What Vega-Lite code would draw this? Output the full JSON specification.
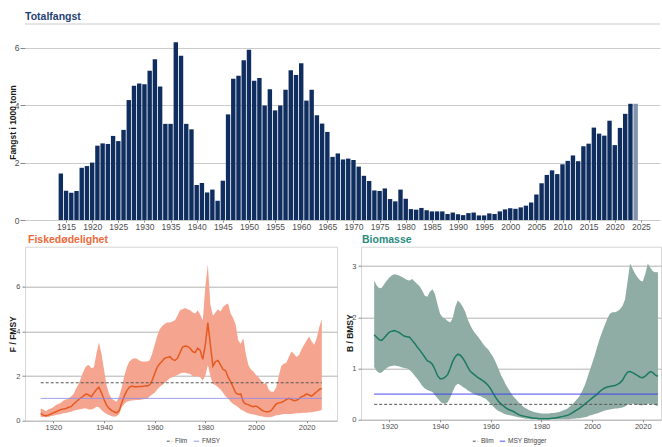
{
  "$schema": "https://vega.github.io/schema/vega-lite/v6.json",
  "usermeta": {"embedOptions": {"actions": false}},
  "padding": {"left": 8, "top": 12, "right": 0, "bottom": 0},
  "autosize": {"type": "pad"},
  "background": "white",
  "config": {
    "font": "Liberation Sans",
    "view": {"stroke": null},
    "axis": {"labelFont": "Liberation Sans", "labelColor": "#4d4d4d", "titleColor": "#1a1a1a", "titleFont": "Liberation Sans", "titleFontWeight": "bold", "tickColor": "#888888", "domain": false, "labelFlush": false},
    "title": {"font": "Liberation Sans", "fontWeight": "bold", "anchor": "start", "frame": "group"},
    "legend": {"orient": "none", "direction": "horizontal", "title": null, "labelFontSize": 6.5, "labelColor": "#444444", "symbolType": "stroke", "symbolStrokeWidth": 1, "symbolSize": 30, "columnPadding": 3, "labelOffset": 2, "padding": 0, "labelFont": "Liberation Sans"}
  },
  "datasets": {
    "catch": [
      {"year":1914,"catch":1.62,"type":"final"},{"year":1915,"catch":1.02,"type":"final"},{"year":1916,"catch":0.95,"type":"final"},{"year":1917,"catch":1.01,"type":"final"},{"year":1918,"catch":1.82,"type":"final"},{"year":1919,"catch":1.88,"type":"final"},{"year":1920,"catch":2.0,"type":"final"},{"year":1921,"catch":2.59,"type":"final"},{"year":1922,"catch":2.67,"type":"final"},{"year":1923,"catch":2.65,"type":"final"},{"year":1924,"catch":2.93,"type":"final"},{"year":1925,"catch":2.75,"type":"final"},{"year":1926,"catch":3.14,"type":"final"},{"year":1927,"catch":4.18,"type":"final"},{"year":1928,"catch":4.68,"type":"final"},{"year":1929,"catch":4.76,"type":"final"},{"year":1930,"catch":4.73,"type":"final"},{"year":1931,"catch":5.2,"type":"final"},{"year":1932,"catch":5.6,"type":"final"},{"year":1933,"catch":4.65,"type":"final"},{"year":1934,"catch":3.35,"type":"final"},{"year":1935,"catch":3.35,"type":"final"},{"year":1936,"catch":6.19,"type":"final"},{"year":1937,"catch":5.72,"type":"final"},{"year":1938,"catch":3.35,"type":"final"},{"year":1939,"catch":3.16,"type":"final"},{"year":1940,"catch":1.22,"type":"final"},{"year":1941,"catch":1.29,"type":"final"},{"year":1942,"catch":0.96,"type":"final"},{"year":1943,"catch":1.06,"type":"final"},{"year":1944,"catch":0.67,"type":"final"},{"year":1945,"catch":1.37,"type":"final"},{"year":1946,"catch":3.68,"type":"final"},{"year":1947,"catch":4.92,"type":"final"},{"year":1948,"catch":5.03,"type":"final"},{"year":1949,"catch":5.57,"type":"final"},{"year":1950,"catch":5.93,"type":"final"},{"year":1951,"catch":4.85,"type":"final"},{"year":1952,"catch":4.95,"type":"final"},{"year":1953,"catch":3.99,"type":"final"},{"year":1954,"catch":4.56,"type":"final"},{"year":1955,"catch":3.82,"type":"final"},{"year":1956,"catch":3.99,"type":"final"},{"year":1957,"catch":4.54,"type":"final"},{"year":1958,"catch":5.22,"type":"final"},{"year":1959,"catch":5.05,"type":"final"},{"year":1960,"catch":5.46,"type":"final"},{"year":1961,"catch":4.16,"type":"final"},{"year":1962,"catch":4.54,"type":"final"},{"year":1963,"catch":3.65,"type":"final"},{"year":1964,"catch":3.36,"type":"final"},{"year":1965,"catch":3.07,"type":"final"},{"year":1966,"catch":2.2,"type":"final"},{"year":1967,"catch":2.32,"type":"final"},{"year":1968,"catch":2.11,"type":"final"},{"year":1969,"catch":2.14,"type":"final"},{"year":1970,"catch":2.09,"type":"final"},{"year":1971,"catch":1.86,"type":"final"},{"year":1972,"catch":1.54,"type":"final"},{"year":1973,"catch":1.36,"type":"final"},{"year":1974,"catch":1.03,"type":"final"},{"year":1975,"catch":1.01,"type":"final"},{"year":1976,"catch":1.1,"type":"final"},{"year":1977,"catch":0.73,"type":"final"},{"year":1978,"catch":0.65,"type":"final"},{"year":1979,"catch":1.06,"type":"final"},{"year":1980,"catch":0.74,"type":"final"},{"year":1981,"catch":0.38,"type":"final"},{"year":1982,"catch":0.36,"type":"final"},{"year":1983,"catch":0.42,"type":"final"},{"year":1984,"catch":0.34,"type":"final"},{"year":1985,"catch":0.3,"type":"final"},{"year":1986,"catch":0.3,"type":"final"},{"year":1987,"catch":0.3,"type":"final"},{"year":1988,"catch":0.21,"type":"final"},{"year":1989,"catch":0.26,"type":"final"},{"year":1990,"catch":0.2,"type":"final"},{"year":1991,"catch":0.17,"type":"final"},{"year":1992,"catch":0.24,"type":"final"},{"year":1993,"catch":0.26,"type":"final"},{"year":1994,"catch":0.16,"type":"final"},{"year":1995,"catch":0.16,"type":"final"},{"year":1996,"catch":0.23,"type":"final"},{"year":1997,"catch":0.21,"type":"final"},{"year":1998,"catch":0.3,"type":"final"},{"year":1999,"catch":0.37,"type":"final"},{"year":2000,"catch":0.41,"type":"final"},{"year":2001,"catch":0.39,"type":"final"},{"year":2002,"catch":0.44,"type":"final"},{"year":2003,"catch":0.5,"type":"final"},{"year":2004,"catch":0.61,"type":"final"},{"year":2005,"catch":0.89,"type":"final"},{"year":2006,"catch":1.28,"type":"final"},{"year":2007,"catch":1.57,"type":"final"},{"year":2008,"catch":1.73,"type":"final"},{"year":2009,"catch":1.6,"type":"final"},{"year":2010,"catch":1.94,"type":"final"},{"year":2011,"catch":2.06,"type":"final"},{"year":2012,"catch":2.25,"type":"final"},{"year":2013,"catch":2.05,"type":"final"},{"year":2014,"catch":2.57,"type":"final"},{"year":2015,"catch":2.66,"type":"final"},{"year":2016,"catch":3.22,"type":"final"},{"year":2017,"catch":3.01,"type":"final"},{"year":2018,"catch":2.94,"type":"final"},{"year":2019,"catch":3.46,"type":"final"},{"year":2020,"catch":2.61,"type":"final"},{"year":2021,"catch":3.21,"type":"final"},{"year":2022,"catch":3.7,"type":"final"},{"year":2023,"catch":4.05,"type":"final"},{"year":2024,"catch":4.05,"type":"prelim"}
    ],
    "fish": [
      {"year":1915,"low":0.18,"median":0.33,"high":0.55},{"year":1916,"low":0.17,"median":0.25,"high":0.5},{"year":1917,"low":0.15,"median":0.22,"high":0.42},{"year":1918,"low":0.17,"median":0.25,"high":0.5},{"year":1919,"low":0.2,"median":0.3,"high":0.55},{"year":1920,"low":0.22,"median":0.35,"high":0.6},{"year":1921,"low":0.25,"median":0.4,"high":0.7},{"year":1922,"low":0.28,"median":0.45,"high":0.75},{"year":1923,"low":0.3,"median":0.5,"high":0.8},{"year":1924,"low":0.33,"median":0.52,"high":0.9},{"year":1925,"low":0.35,"median":0.55,"high":0.95},{"year":1926,"low":0.38,"median":0.6,"high":1.0},{"year":1927,"low":0.4,"median":0.63,"high":1.08},{"year":1928,"low":0.45,"median":0.75,"high":1.2},{"year":1929,"low":0.48,"median":0.85,"high":1.45},{"year":1930,"low":0.5,"median":0.95,"high":1.65},{"year":1931,"low":0.52,"median":1.03,"high":1.95},{"year":1932,"low":0.55,"median":1.12,"high":2.25},{"year":1933,"low":0.55,"median":1.2,"high":2.45},{"year":1934,"low":0.5,"median":1.15,"high":2.5},{"year":1935,"low":0.5,"median":1.08,"high":2.35},{"year":1936,"low":0.55,"median":1.25,"high":2.4},{"year":1937,"low":0.63,"median":1.4,"high":3.0},{"year":1938,"low":0.6,"median":1.5,"high":3.5},{"year":1939,"low":0.48,"median":1.25,"high":3.0},{"year":1940,"low":0.38,"median":0.95,"high":2.3},{"year":1941,"low":0.3,"median":0.7,"high":1.6},{"year":1942,"low":0.25,"median":0.55,"high":1.2},{"year":1943,"low":0.2,"median":0.45,"high":1.0},{"year":1944,"low":0.18,"median":0.4,"high":0.9},{"year":1945,"low":0.2,"median":0.35,"high":0.85},{"year":1946,"low":0.3,"median":0.45,"high":1.1},{"year":1947,"low":0.6,"median":0.8,"high":1.5},{"year":1948,"low":0.75,"median":1.1,"high":2.0},{"year":1949,"low":0.85,"median":1.35,"high":2.4},{"year":1950,"low":0.88,"median":1.5,"high":2.65},{"year":1951,"low":0.9,"median":1.55,"high":2.75},{"year":1952,"low":0.92,"median":1.52,"high":2.8},{"year":1953,"low":0.93,"median":1.52,"high":2.78},{"year":1954,"low":0.93,"median":1.53,"high":2.7},{"year":1955,"low":0.95,"median":1.53,"high":2.65},{"year":1956,"low":0.97,"median":1.55,"high":2.65},{"year":1957,"low":1.0,"median":1.55,"high":2.65},{"year":1958,"low":1.08,"median":1.6,"high":2.7},{"year":1959,"low":1.18,"median":1.8,"high":3.0},{"year":1960,"low":1.25,"median":2.1,"high":3.4},{"year":1961,"low":1.4,"median":2.4,"high":3.8},{"year":1962,"low":1.52,"median":2.55,"high":4.1},{"year":1963,"low":1.6,"median":2.68,"high":4.25},{"year":1964,"low":1.7,"median":2.8,"high":4.35},{"year":1965,"low":1.8,"median":2.84,"high":4.4},{"year":1966,"low":1.9,"median":2.87,"high":4.4},{"year":1967,"low":1.95,"median":2.75,"high":4.45},{"year":1968,"low":2.0,"median":2.7,"high":4.5},{"year":1969,"low":2.05,"median":2.8,"high":4.7},{"year":1970,"low":2.12,"median":3.05,"high":4.95},{"year":1971,"low":2.15,"median":3.3,"high":5.0},{"year":1972,"low":2.15,"median":3.35,"high":5.05},{"year":1973,"low":2.12,"median":3.33,"high":5.0},{"year":1974,"low":2.1,"median":3.25,"high":4.95},{"year":1975,"low":2.0,"median":3.1,"high":4.85},{"year":1976,"low":1.97,"median":3.05,"high":4.8},{"year":1977,"low":2.0,"median":3.25,"high":4.95},{"year":1978,"low":1.95,"median":3.15,"high":4.75},{"year":1979,"low":1.8,"median":2.75,"high":4.5},{"year":1980,"low":2.0,"median":3.4,"high":6.0},{"year":1981,"low":2.5,"median":4.4,"high":7.0},{"year":1982,"low":2.0,"median":3.4,"high":5.2},{"year":1983,"low":1.65,"median":2.45,"high":4.7},{"year":1984,"low":1.6,"median":2.65,"high":4.85},{"year":1985,"low":1.5,"median":2.7,"high":5.0},{"year":1986,"low":1.4,"median":2.5,"high":4.9},{"year":1987,"low":1.25,"median":2.3,"high":5.1},{"year":1988,"low":1.1,"median":2.25,"high":5.2},{"year":1989,"low":1.0,"median":1.95,"high":5.25},{"year":1990,"low":0.85,"median":1.75,"high":4.8},{"year":1991,"low":0.75,"median":1.5,"high":4.6},{"year":1992,"low":0.68,"median":1.25,"high":4.3},{"year":1993,"low":0.6,"median":1.18,"high":3.6},{"year":1994,"low":0.5,"median":1.2,"high":3.45},{"year":1995,"low":0.45,"median":0.85,"high":3.7},{"year":1996,"low":0.38,"median":0.75,"high":3.0},{"year":1997,"low":0.33,"median":0.72,"high":2.5},{"year":1998,"low":0.3,"median":0.66,"high":2.3},{"year":1999,"low":0.28,"median":0.63,"high":2.2},{"year":2000,"low":0.25,"median":0.66,"high":2.05},{"year":2001,"low":0.22,"median":0.6,"high":1.95},{"year":2002,"low":0.2,"median":0.5,"high":1.8},{"year":2003,"low":0.18,"median":0.43,"high":1.65},{"year":2004,"low":0.16,"median":0.4,"high":1.7},{"year":2005,"low":0.15,"median":0.4,"high":1.4},{"year":2006,"low":0.17,"median":0.45,"high":1.3},{"year":2007,"low":0.2,"median":0.6,"high":1.3},{"year":2008,"low":0.24,"median":0.75,"high":1.5},{"year":2009,"low":0.26,"median":0.8,"high":2.0},{"year":2010,"low":0.28,"median":0.82,"high":2.45},{"year":2011,"low":0.3,"median":0.88,"high":2.55},{"year":2012,"low":0.3,"median":0.95,"high":2.6},{"year":2013,"low":0.3,"median":1.0,"high":2.85},{"year":2014,"low":0.3,"median":0.95,"high":3.1},{"year":2015,"low":0.32,"median":0.9,"high":3.0},{"year":2016,"low":0.33,"median":0.92,"high":2.85},{"year":2017,"low":0.33,"median":0.98,"high":2.95},{"year":2018,"low":0.35,"median":1.08,"high":3.2},{"year":2019,"low":0.36,"median":1.12,"high":3.4},{"year":2020,"low":0.36,"median":1.2,"high":3.6},{"year":2021,"low":0.38,"median":1.15,"high":3.77},{"year":2022,"low":0.38,"median":1.1,"high":3.55},{"year":2023,"low":0.4,"median":1.2,"high":3.4},{"year":2024,"low":0.42,"median":1.3,"high":3.7},{"year":2025,"low":0.45,"median":1.4,"high":4.2},{"year":2026,"low":0.48,"median":1.45,"high":4.55}
    ],
    "bio": [
      {"year":1914,"low":1.03,"median":1.66,"high":2.72},{"year":1915,"low":0.95,"median":1.61,"high":2.62},{"year":1916,"low":0.91,"median":1.56,"high":2.57},{"year":1917,"low":0.92,"median":1.55,"high":2.58},{"year":1918,"low":0.97,"median":1.6,"high":2.65},{"year":1919,"low":1.01,"median":1.66,"high":2.72},{"year":1920,"low":1.04,"median":1.71,"high":2.78},{"year":1921,"low":1.05,"median":1.73,"high":2.82},{"year":1922,"low":1.06,"median":1.74,"high":2.84},{"year":1923,"low":1.05,"median":1.72,"high":2.83},{"year":1924,"low":1.04,"median":1.7,"high":2.81},{"year":1925,"low":1.02,"median":1.66,"high":2.79},{"year":1926,"low":1.01,"median":1.63,"high":2.76},{"year":1927,"low":1.0,"median":1.62,"high":2.73},{"year":1928,"low":0.97,"median":1.61,"high":2.72},{"year":1929,"low":0.92,"median":1.55,"high":2.75},{"year":1930,"low":0.86,"median":1.49,"high":2.7},{"year":1931,"low":0.8,"median":1.42,"high":2.65},{"year":1932,"low":0.73,"median":1.36,"high":2.6},{"year":1933,"low":0.66,"median":1.29,"high":2.52},{"year":1934,"low":0.61,"median":1.22,"high":2.42},{"year":1935,"low":0.58,"median":1.15,"high":2.4},{"year":1936,"low":0.56,"median":1.13,"high":2.5},{"year":1937,"low":0.54,"median":1.08,"high":2.55},{"year":1938,"low":0.48,"median":0.98,"high":2.45},{"year":1939,"low":0.42,"median":0.86,"high":2.25},{"year":1940,"low":0.36,"median":0.8,"high":2.07},{"year":1941,"low":0.32,"median":0.8,"high":2.0},{"year":1942,"low":0.31,"median":0.83,"high":1.97},{"year":1943,"low":0.34,"median":0.88,"high":1.93},{"year":1944,"low":0.43,"median":1.0,"high":1.9},{"year":1945,"low":0.55,"median":1.14,"high":1.98},{"year":1946,"low":0.66,"median":1.23,"high":2.2},{"year":1947,"low":0.7,"median":1.28,"high":2.33},{"year":1948,"low":0.68,"median":1.26,"high":2.28},{"year":1949,"low":0.64,"median":1.2,"high":2.2},{"year":1950,"low":0.61,"median":1.12,"high":2.1},{"year":1951,"low":0.57,"median":1.02,"high":1.95},{"year":1952,"low":0.54,"median":0.94,"high":1.84},{"year":1953,"low":0.51,"median":0.9,"high":1.75},{"year":1954,"low":0.49,"median":0.86,"high":1.68},{"year":1955,"low":0.47,"median":0.82,"high":1.62},{"year":1956,"low":0.46,"median":0.79,"high":1.55},{"year":1957,"low":0.43,"median":0.76,"high":1.48},{"year":1958,"low":0.41,"median":0.72,"high":1.42},{"year":1959,"low":0.36,"median":0.67,"high":1.37},{"year":1960,"low":0.31,"median":0.6,"high":1.3},{"year":1961,"low":0.26,"median":0.51,"high":1.22},{"year":1962,"low":0.21,"median":0.43,"high":1.12},{"year":1963,"low":0.17,"median":0.36,"high":1.0},{"year":1964,"low":0.15,"median":0.31,"high":0.88},{"year":1965,"low":0.12,"median":0.27,"high":0.78},{"year":1966,"low":0.1,"median":0.23,"high":0.68},{"year":1967,"low":0.09,"median":0.2,"high":0.6},{"year":1968,"low":0.08,"median":0.18,"high":0.52},{"year":1969,"low":0.07,"median":0.16,"high":0.45},{"year":1970,"low":0.06,"median":0.13,"high":0.4},{"year":1971,"low":0.05,"median":0.1,"high":0.34},{"year":1972,"low":0.04,"median":0.08,"high":0.29},{"year":1973,"low":0.03,"median":0.07,"high":0.25},{"year":1974,"low":0.02,"median":0.06,"high":0.22},{"year":1975,"low":0.02,"median":0.05,"high":0.19},{"year":1976,"low":0.01,"median":0.04,"high":0.17},{"year":1977,"low":0.01,"median":0.03,"high":0.15},{"year":1978,"low":0.01,"median":0.03,"high":0.14},{"year":1979,"low":0.01,"median":0.02,"high":0.13},{"year":1980,"low":0.01,"median":0.02,"high":0.12},{"year":1981,"low":0.01,"median":0.02,"high":0.12},{"year":1982,"low":0.01,"median":0.02,"high":0.12},{"year":1983,"low":0.01,"median":0.02,"high":0.12},{"year":1984,"low":0.01,"median":0.03,"high":0.13},{"year":1985,"low":0.01,"median":0.03,"high":0.13},{"year":1986,"low":0.01,"median":0.04,"high":0.14},{"year":1987,"low":0.01,"median":0.05,"high":0.15},{"year":1988,"low":0.01,"median":0.06,"high":0.17},{"year":1989,"low":0.01,"median":0.07,"high":0.19},{"year":1990,"low":0.01,"median":0.08,"high":0.21},{"year":1991,"low":0.01,"median":0.1,"high":0.25},{"year":1992,"low":0.02,"median":0.13,"high":0.29},{"year":1993,"low":0.02,"median":0.16,"high":0.34},{"year":1994,"low":0.03,"median":0.19,"high":0.4},{"year":1995,"low":0.03,"median":0.22,"high":0.46},{"year":1996,"low":0.04,"median":0.26,"high":0.55},{"year":1997,"low":0.05,"median":0.3,"high":0.66},{"year":1998,"low":0.06,"median":0.34,"high":0.8},{"year":1999,"low":0.08,"median":0.38,"high":0.95},{"year":2000,"low":0.09,"median":0.42,"high":1.1},{"year":2001,"low":0.11,"median":0.46,"high":1.25},{"year":2002,"low":0.12,"median":0.5,"high":1.42},{"year":2003,"low":0.14,"median":0.55,"high":1.58},{"year":2004,"low":0.16,"median":0.59,"high":1.72},{"year":2005,"low":0.18,"median":0.62,"high":1.85},{"year":2006,"low":0.19,"median":0.64,"high":1.97},{"year":2007,"low":0.2,"median":0.65,"high":2.07},{"year":2008,"low":0.21,"median":0.66,"high":2.1},{"year":2009,"low":0.22,"median":0.67,"high":2.1},{"year":2010,"low":0.22,"median":0.69,"high":2.12},{"year":2011,"low":0.23,"median":0.72,"high":2.16},{"year":2012,"low":0.24,"median":0.77,"high":2.22},{"year":2013,"low":0.26,"median":0.86,"high":2.35},{"year":2014,"low":0.29,"median":0.93,"high":2.7},{"year":2015,"low":0.31,"median":0.94,"high":3.05},{"year":2016,"low":0.31,"median":0.92,"high":2.95},{"year":2017,"low":0.3,"median":0.89,"high":2.85},{"year":2018,"low":0.29,"median":0.86,"high":2.78},{"year":2019,"low":0.28,"median":0.83,"high":2.72},{"year":2020,"low":0.28,"median":0.82,"high":2.7},{"year":2021,"low":0.29,"median":0.85,"high":2.85},{"year":2022,"low":0.31,"median":0.9,"high":3.05},{"year":2023,"low":0.31,"median":0.94,"high":2.97},{"year":2024,"low":0.3,"median":0.92,"high":2.9},{"year":2025,"low":0.28,"median":0.87,"high":2.88},{"year":2026,"low":0.27,"median":0.85,"high":2.88}
    ],
    "refF": [
      {"ref":"Flim","start":1915,"end":2026,"value":1.7},
      {"ref":"FMSY","start":1915,"end":2026,"value":1.0}
    ],
    "refB": [
      {"ref":"Blim","start":1914,"end":2026,"value":0.3},
      {"ref":"MSY Btrigger","start":1914,"end":2026,"value":0.5}
    ]
  },
  "vconcat": [
    {
      "width": 635,
      "height": 196,
      "title": {"text": "Totalfangst", "color": "#1f3f73", "fontSize": 10.5, "offset": 1},
      "layer": [
        {
          "data": {"name": "catch"},
          "mark": {"type": "bar", "size": 4.4},
          "encoding": {
            "x": {"field": "year", "type": "quantitative", "scale": {"domain": [1908.1, 2027.7], "nice": false, "zero": false},
                  "axis": {"values": [1915,1920,1925,1930,1935,1940,1945,1950,1955,1960,1965,1970,1975,1980,1985,1990,1995,2000,2005,2010,2015,2020,2025], "format": "d", "grid": false, "tickSize": 2, "labelPadding": 0, "labelFontSize": 8.5, "title": null}},
            "y": {"field": "catch", "type": "quantitative", "scale": {"domain": [0, 6.83], "nice": false},
                  "axis": {"values": [0,2,4,6], "title": "Fangst i 1000 tonn", "titleFontSize": 8.5, "titleX": -12.5, "titleY": 98, "titleAlign": "center", "titleBaseline": "middle", "gridColor": "#cccccc", "tickSize": 5, "labelPadding": 1, "labelFontSize": 8.5}},
            "color": {"field": "type", "type": "nominal", "scale": {"domain": ["final","prelim"], "range": ["#0f2e5f","#8193ad"]}, "legend": null}
          }
        },
        {
          "data": {"values": [{}]},
          "mark": {"type": "rule", "color": "#cccccc"},
          "encoding": {"y": {"datum": 6.83}}
        }
      ]
    },
    {
      "hconcat": [
        {
          "width": 312,
          "height": 174,
          "title": {"text": "Fiskedødelighet", "color": "#ec6b3c", "fontSize": 10.5, "offset": 1, "dx": 3},
          "view": {"stroke": "#d6d6d6"},
          "layer": [
            {
              "data": {"name": "fish"},
              "mark": {"type": "area", "color": "#f5a58f", "opacity": 1},
              "encoding": {
                "x": {"field": "year", "type": "quantitative", "scale": {"domain": [1908.8, 2032.0], "nice": false, "zero": false},
                      "axis": {"values": [1920,1930,1940,1950,1960,1970,1980,1990,2000,2010,2020], "format": "d", "grid": false, "tickSize": 2, "labelPadding": 1, "labelFontSize": 7.5, "title": null}},
                "y": {"field": "low", "type": "quantitative", "scale": {"domain": [0, 7.8], "nice": false},
                      "axis": {"values": [0,2,4,6], "format": "d", "title": "F / FMSY", "titleFontSize": 8.5, "titleX": -12.5, "titleY": 87, "titleAlign": "center", "titleBaseline": "middle", "gridColor": "#b3b3b3", "tickSize": 3, "labelPadding": 2, "labelFontSize": 7.5}},
                "y2": {"field": "high"}
              }
            },
            {
              "data": {"name": "fish"},
              "mark": {"type": "line", "color": "#e65a22", "strokeWidth": 1.5},
              "encoding": {
                "x": {"field": "year", "type": "quantitative"},
                "y": {"field": "median", "type": "quantitative"}
              }
            },
            {
              "data": {"name": "refF"},
              "mark": {"type": "rule", "strokeWidth": 1},
              "encoding": {
                "x": {"field": "start", "type": "quantitative"},
                "x2": {"field": "end"},
                "y": {"field": "value", "type": "quantitative"},
                "color": {"field": "ref", "type": "nominal", "scale": {"domain": ["Flim","FMSY"], "range": ["#555555","#8c8ce8"]},
                          "legend": {"legendX": 141, "legendY": 191, "encode": {"symbols": {"update": {"strokeDash": {"signal": "datum.value == 'Flim' ? [3,2] : [1,0]"}}}}}},
                "strokeDash": {"field": "ref", "type": "nominal", "scale": {"domain": ["Flim","FMSY"], "range": [[3,2],[1,0]]}, "legend": null}
              }
            }
          ]
        },
        {
          "width": 300,
          "height": 173,
          "title": {"text": "Biomasse", "color": "#2a8c80", "fontSize": 10.5, "offset": 1, "dx": 1},
          "view": {"stroke": "#d6d6d6"},
          "layer": [
            {
              "data": {"name": "bio"},
              "mark": {"type": "area", "color": "#8fada4", "opacity": 1},
              "encoding": {
                "x": {"field": "year", "type": "quantitative", "scale": {"domain": [1908.8, 2027.2], "nice": false, "zero": false},
                      "axis": {"values": [1920,1930,1940,1950,1960,1970,1980,1990,2000,2010,2020], "format": "d", "grid": false, "tickSize": 2, "labelPadding": 1, "labelFontSize": 7.5, "title": null}},
                "y": {"field": "low", "type": "quantitative", "scale": {"domain": [0, 3.38], "nice": false},
                      "axis": {"values": [0,1,2,3], "format": "d", "title": "B / BMSY", "titleFontSize": 8.5, "titleX": -12, "titleY": 86, "titleAlign": "center", "titleBaseline": "middle", "gridColor": "#b3b3b3", "tickSize": 3, "labelPadding": 2, "labelFontSize": 7.5}},
                "y2": {"field": "high"}
              }
            },
            {
              "data": {"name": "bio"},
              "mark": {"type": "line", "color": "#1b7a60", "strokeWidth": 1.5},
              "encoding": {
                "x": {"field": "year", "type": "quantitative"},
                "y": {"field": "median", "type": "quantitative"}
              }
            },
            {
              "data": {"name": "refB"},
              "mark": {"type": "rule", "strokeWidth": 1},
              "encoding": {
                "x": {"field": "start", "type": "quantitative"},
                "x2": {"field": "end"},
                "y": {"field": "value", "type": "quantitative"},
                "color": {"field": "ref", "type": "nominal", "scale": {"domain": ["Blim","MSY Btrigger"], "range": ["#555555","#3a3af2"]},
                          "legend": {"legendX": 111, "legendY": 191, "encode": {"symbols": {"update": {"strokeDash": {"signal": "datum.value == 'Blim' ? [3,2] : [1,0]"}}}}}},
                "strokeDash": {"field": "ref", "type": "nominal", "scale": {"domain": ["Blim","MSY Btrigger"], "range": [[3,2],[1,0]]}, "legend": null}
              }
            }
          ]
        }
      ],
      "spacing": 24,
      "bounds": "flush",
      "resolve": {"scale": {"color": "independent", "strokeDash": "independent"}, "legend": {"color": "independent", "strokeDash": "independent"}}
    }
  ],
  "spacing": 26.7,
  "bounds": "flush"
}
